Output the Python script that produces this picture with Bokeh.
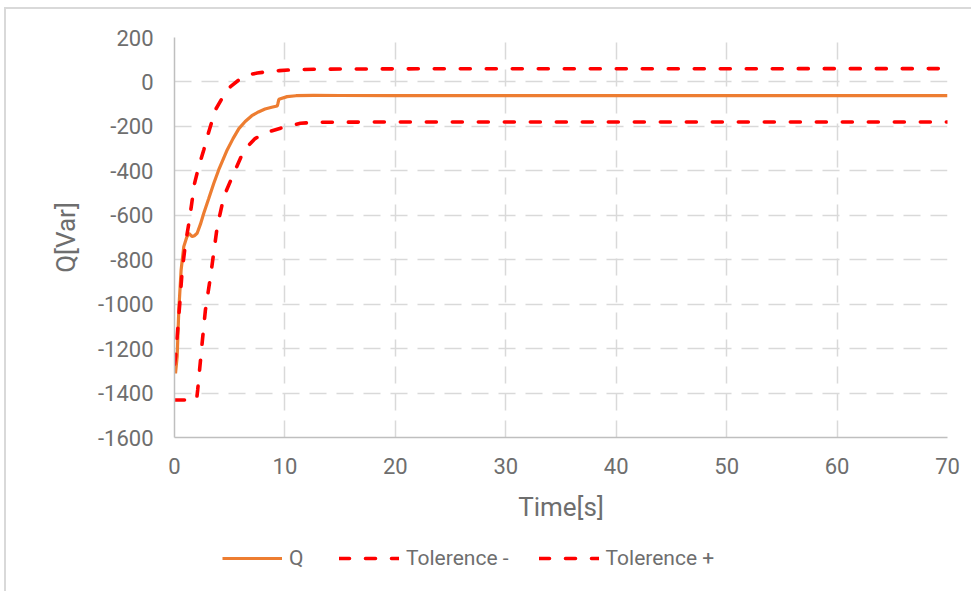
from bokeh.plotting import figure
from bokeh.models import Legend, LegendItem, FixedTicker, Range1d
from bokeh.layouts import column
from bokeh.embed import file_html
from bokeh.resources import INLINE

# ---- data ----
t_q = [0, 0.09, 0.24, 0.39, 0.6, 0.84, 1.1, 1.3, 1.6, 1.8, 2.05, 2.35, 2.65, 3.1, 3.56,
       4.0, 4.77, 5.3, 5.83, 6.4, 7.0, 7.6, 8.2, 8.8, 9.3, 9.35, 9.45, 10.2, 11, 12.6,
       15, 20, 30, 40, 50, 60, 70]
q = [-1290, -1311, -1236, -1026, -846, -741, -700, -681, -696, -692, -681, -640, -591, -525, -456,
     -396, -306, -255, -210, -178, -152, -135, -122, -114, -108, -100, -78, -66, -62, -60,
     -61, -62, -62, -62, -62, -62, -62]

t_plus = [0, 0.1, 0.24, 0.48, 0.7, 1.0, 1.3, 1.55, 1.8, 2.2, 2.65, 3.1, 3.7, 4.35, 5.07,
          5.8, 6.6, 7.5, 8.4, 9.5, 10.5, 12.6, 15, 20, 70]
tol_plus = [-1270, -1236, -1146, -996, -846, -726, -636, -550, -460, -380, -306, -225, -126, -70, -21,
            8, 31, 40, 46, 51, 54, 57, 58, 59, 60]

t_minus = [0, 2.0, 2.1, 2.5, 2.8, 3.26, 3.87, 4.47, 5.2, 6.0, 6.6, 7.3, 8.1, 9.6, 11.4,
           12.6, 15, 20, 70]
tol_minus = [-1431, -1431, -1386, -1176, -1026, -876, -651, -516, -430, -340, -291, -255, -231, -208, -186,
             -182, -181, -180, -180]

x_ticks = [0, 10, 20, 30, 40, 50, 60, 70]
y_ticks = [-1600, -1400, -1200, -1000, -800, -600, -400, -200, 0, 200]

labels = ["Q", "Tolerence -", "Tolerence +"]

# ---- styles ----
FONT = "Roboto"
TXT = "#6e6e6e"
Q_STYLE = dict(line_color="#ED7D31", line_width=3.2)
TOL_STYLE = dict(line_color="#FF0000", line_width=3.6, line_dash="10 16", line_cap="round")

# ---- main chart ----
p = figure(width=965, height=520, output_backend="svg", toolbar_location=None,
           x_range=Range1d(0, 70), y_range=Range1d(-1600, 200),
           min_border_left=168, min_border_right=24, min_border_top=28, min_border_bottom=92)
p.outline_line_color = None
p.background_fill_color = "white"
p.border_fill_color = "white"

for ax, ticks in ((p.xaxis[0], x_ticks), (p.yaxis[0], y_ticks)):
    ax.ticker = FixedTicker(ticks=ticks)
    ax.major_label_overrides = {v: str(v) for v in ticks}
    ax.axis_line_color = "#bfbfbf"
    ax.axis_line_width = 1.5
    ax.major_tick_line_color = None
    ax.minor_tick_line_color = None
    ax.major_label_text_font = FONT
    ax.major_label_text_font_size = "22px"
    ax.major_label_text_color = TXT
    ax.axis_label_text_font = FONT
    ax.axis_label_text_font_style = "normal"
    ax.axis_label_text_font_size = "26px"
    ax.axis_label_text_color = TXT

p.xaxis.axis_label = "Time[s]"
p.yaxis.axis_label = "Q[Var]"
p.xaxis.major_label_standoff = 14
p.yaxis.major_label_standoff = 15
p.xaxis.axis_label_standoff = 15
p.yaxis.axis_label_standoff = 14

for g in (p.xgrid[0], p.ygrid[0]):
    g.grid_line_color = "#d9d9d9"
    g.grid_line_width = 1.5
    g.grid_line_dash = "17 10"
p.xgrid.ticker = FixedTicker(ticks=x_ticks)
p.ygrid.ticker = FixedTicker(ticks=y_ticks)

p.line(t_q, q, **Q_STYLE)
p.line(t_minus, tol_minus, **TOL_STYLE)
p.line(t_plus, tol_plus, **TOL_STYLE)

# ---- legend strip (same series, drawn outside its visible range) ----
lg = figure(width=965, height=62, output_backend="svg", toolbar_location=None,
            x_range=Range1d(1000, 1001), y_range=Range1d(1000, 1001),
            min_border_left=0, min_border_right=0, min_border_top=0, min_border_bottom=0)
lg.axis.visible = False
lg.grid.visible = False
lg.outline_line_color = None
lg.background_fill_color = "white"
lg.border_fill_color = "white"
r_q = lg.line(t_q, q, **Q_STYLE)
r_m = lg.line(t_minus, tol_minus, **TOL_STYLE)
r_p = lg.line(t_plus, tol_plus, **TOL_STYLE)

legend = Legend(items=[LegendItem(label=labels[0], renderers=[r_q]),
                       LegendItem(label=labels[1], renderers=[r_m]),
                       LegendItem(label=labels[2], renderers=[r_p])],
                orientation="horizontal", location=(48, 21),
                border_line_color=None, background_fill_alpha=0,
                padding=0, margin=0, spacing=30, glyph_width=60, glyph_height=20,
                label_standoff=7, label_text_font=FONT, label_text_font_size="21px",
                label_text_color=TXT)
lg.add_layout(legend, "center")

layout = column(p, lg, spacing=0,
                styles={"border-left": "2px solid #d9d9d9", "border-top": "2px solid #d9d9d9",
                        "margin-left": "4px", "margin-top": "7px"})

open("out.html", "w").write(file_html(layout, INLINE))
